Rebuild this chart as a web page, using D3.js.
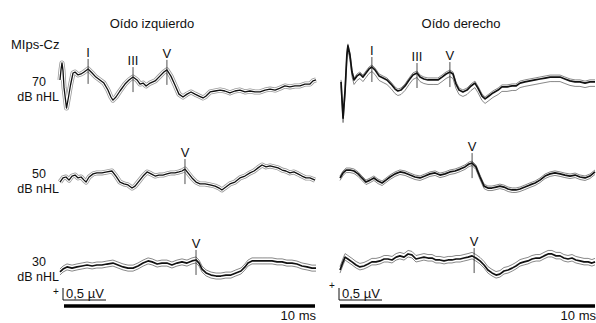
<!DOCTYPE html>
<html>
<head>
<meta charset="utf-8">
<script src="https://cdn.jsdelivr.net/npm/d3@7"></script>
<style>
  body { margin: 0; background: #fff; }
  svg { display: block; }
  text { font-family: "Liberation Sans", Arial, sans-serif; fill: #111; }
</style>
</head>
<body>
<script>
// ABR traces, [time ms, amplitude uV]
const panelTitles = ["Oído izquierdo", "Oído derecho"];
const levels = ["70", "50", "30"];
const montage = "MIps-Cz";

const left70 = [[-0.16,0.21],[-0.12,0.63],[-0.08,0.92],[-0.04,0.6],[0,-0.1],[0.1,-0.96],[0.18,-0.5],[0.26,0.0],[0.36,0.5],[0.44,0.54],[0.56,0.42],[0.68,0.46],[0.8,0.54],[0.96,0.67],[1.12,0.5],[1.27,0.33],[1.43,0.21],[1.59,0.08],[1.75,-0.21],[1.87,-0.5],[1.95,-0.63],[2.07,-0.5],[2.23,-0.25],[2.43,0.04],[2.59,0.21],[2.75,0.33],[2.91,0.21],[3.03,0.04],[3.15,0.08],[3.27,-0.04],[3.43,0.08],[3.63,0.17],[3.82,0.37],[3.98,0.54],[4.1,0.63],[4.26,0.37],[4.42,0],[4.58,-0.38],[4.74,-0.5],[4.9,-0.38],[5.06,-0.29],[5.22,-0.38],[5.38,-0.46],[5.54,-0.54],[5.66,-0.46],[5.82,-0.29],[6.02,-0.25],[6.22,-0.21],[6.41,-0.25],[6.61,-0.33],[6.81,-0.25],[7.01,-0.21],[7.21,-0.29],[7.41,-0.25],[7.61,-0.29],[7.81,-0.29],[8.01,-0.21],[8.21,-0.17],[8.41,-0.21],[8.61,-0.13],[8.8,-0.04],[9.0,-0.08],[9.2,-0.04],[9.4,-0.04],[9.6,0.04],[9.8,0.04],[9.92,0.17],[10.04,0.21]];
const right70 = [[0.04,0.13],[0.12,-1.38],[0.2,-0.21],[0.27,1.25],[0.31,1.63],[0.39,1.25],[0.47,0.54],[0.55,0.21],[0.67,0.38],[0.78,0.46],[0.9,0.33],[1.02,0.5],[1.14,0.67],[1.25,0.75],[1.37,0.63],[1.53,0.38],[1.69,0.29],[1.84,0.21],[2.0,0.04],[2.16,-0.17],[2.27,-0.25],[2.39,-0.21],[2.55,-0.04],[2.71,0.21],[2.86,0.42],[3.02,0.5],[3.14,0.33],[3.29,0.25],[3.45,0.21],[3.65,0.21],[3.84,0.21],[4.0,0.33],[4.16,0.46],[4.31,0.54],[4.43,0.46],[4.55,0.04],[4.67,-0.21],[4.82,-0.29],[4.98,-0.21],[5.14,-0.04],[5.29,0.08],[5.41,-0.13],[5.57,-0.46],[5.69,-0.58],[5.84,-0.46],[6.0,-0.33],[6.2,-0.21],[6.35,-0.08],[6.55,-0.08],[6.75,-0.04],[6.9,-0.04],[7.06,0.08],[7.25,0.13],[7.45,0.17],[7.65,0.21],[7.84,0.25],[8.04,0.29],[8.24,0.33],[8.43,0.33],[8.63,0.33],[8.82,0.25],[9.02,0.17],[9.22,0.13],[9.41,0.13],[9.61,0.08],[9.8,0.13],[10.0,0.13]];
const left50 = [[-0.16,-0.21],[-0.04,-0.04],[0.08,0],[0.2,-0.13],[0.32,0.04],[0.44,0.08],[0.56,-0.04],[0.68,0],[0.8,-0.13],[0.88,-0.21],[1.0,0],[1.16,0.13],[1.31,0.17],[1.51,0.17],[1.71,0.21],[1.91,0.25],[2.07,0.04],[2.23,-0.21],[2.39,-0.29],[2.55,-0.33],[2.71,-0.46],[2.83,-0.38],[2.99,-0.17],[3.15,0.04],[3.31,0.21],[3.47,0.13],[3.63,0.04],[3.78,0.08],[3.94,0.08],[4.1,0.13],[4.26,0.17],[4.42,0.17],[4.58,0.21],[4.7,0.25],[4.82,0.33],[4.94,0.17],[5.1,-0.04],[5.26,-0.21],[5.42,-0.29],[5.62,-0.29],[5.82,-0.33],[6.02,-0.38],[6.18,-0.46],[6.29,-0.54],[6.45,-0.42],[6.61,-0.29],[6.81,-0.21],[7.01,-0.04],[7.21,0.04],[7.41,0.17],[7.57,0.25],[7.73,0.38],[7.89,0.5],[8.05,0.42],[8.21,0.46],[8.37,0.42],[8.53,0.38],[8.69,0.29],[8.84,0.25],[9.0,0.17],[9.16,0.21],[9.32,0.13],[9.48,0.04],[9.64,-0.04],[9.8,-0.04],[10.0,-0.13]];
const right50 = [[0,-0.04],[0.12,0.17],[0.24,0.29],[0.39,0.29],[0.55,0.25],[0.71,0.13],[0.86,-0.04],[1.02,-0.21],[1.18,-0.13],[1.33,-0.04],[1.49,-0.17],[1.65,-0.25],[1.8,-0.13],[1.96,0],[2.16,0.13],[2.35,0.21],[2.55,0.17],[2.75,0.08],[2.94,0],[3.14,-0.04],[3.33,0.04],[3.53,0.13],[3.73,0.17],[3.92,0.08],[4.12,0.13],[4.31,0.21],[4.51,0.25],[4.71,0.33],[4.9,0.42],[5.06,0.54],[5.18,0.58],[5.33,0.42],[5.49,0],[5.65,-0.38],[5.8,-0.46],[5.96,-0.46],[6.12,-0.42],[6.27,-0.38],[6.43,-0.42],[6.59,-0.5],[6.75,-0.54],[6.9,-0.54],[7.06,-0.5],[7.25,-0.42],[7.45,-0.33],[7.65,-0.25],[7.84,-0.13],[8.04,0.04],[8.24,0.13],[8.43,0.17],[8.63,0.13],[8.82,0.08],[9.02,0.04],[9.22,0.08],[9.41,0],[9.61,-0.04],[9.8,0.04],[10.0,0.21]];
const left30 = [[-0.16,-0.29],[-0.04,-0.17],[0.12,-0.08],[0.32,-0.13],[0.52,-0.08],[0.72,-0.04],[0.92,0],[1.12,-0.04],[1.31,0],[1.51,0],[1.71,0.04],[1.95,0.08],[2.15,0],[2.35,-0.08],[2.55,-0.13],[2.75,-0.13],[2.95,-0.04],[3.15,0.08],[3.35,0.17],[3.51,0.13],[3.71,0.04],[3.9,0.08],[4.1,0.08],[4.3,0],[4.5,0.08],[4.7,0.13],[4.9,0.08],[5.1,0.17],[5.26,0.21],[5.38,0.08],[5.5,-0.17],[5.66,-0.33],[5.86,-0.42],[6.06,-0.46],[6.25,-0.46],[6.45,-0.42],[6.65,-0.42],[6.85,-0.33],[7.05,-0.25],[7.21,-0.08],[7.33,0.08],[7.49,0.17],[7.69,0.17],[7.89,0.17],[8.09,0.17],[8.29,0.17],[8.49,0.13],[8.69,0.13],[8.88,0.08],[9.08,0.08],[9.28,0.04],[9.48,-0.04],[9.68,-0.08],[9.88,-0.13],[10.04,-0.13]];
const right30 = [[0,-0.21],[0.12,0.13],[0.2,0.33],[0.31,0.25],[0.47,0.13],[0.63,0],[0.78,-0.08],[0.94,-0.04],[1.1,0.04],[1.25,0.13],[1.41,0.13],[1.57,0.17],[1.73,0.25],[1.88,0.25],[2.04,0.21],[2.2,0.33],[2.35,0.38],[2.51,0.33],[2.67,0.46],[2.82,0.42],[2.98,0.25],[3.14,0.29],[3.29,0.33],[3.45,0.29],[3.61,0.29],[3.76,0.21],[3.92,0.21],[4.08,0.17],[4.24,0.21],[4.39,0.21],[4.55,0.25],[4.71,0.25],[4.86,0.29],[5.02,0.33],[5.18,0.38],[5.33,0.29],[5.49,0.17],[5.65,0],[5.8,-0.21],[5.96,-0.33],[6.12,-0.42],[6.27,-0.38],[6.43,-0.25],[6.59,-0.21],[6.75,-0.13],[6.9,-0.04],[7.06,0.08],[7.22,0.13],[7.37,0.17],[7.53,0.25],[7.69,0.29],[7.84,0.29],[8.0,0.38],[8.16,0.46],[8.31,0.46],[8.47,0.38],[8.63,0.38],[8.78,0.29],[8.94,0.25],[9.1,0.29],[9.25,0.21],[9.41,0.17],[9.57,0.13],[9.73,0.13],[9.88,0.08],[10.0,0.13]];

// wave labels: [label, latency ms]
const marksLeft70 = [["I", 0.96], ["III", 2.75], ["V", 4.1]];
const marksRight70 = [["I", 1.25], ["III", 3.02], ["V", 4.31]];
const marksLeft50 = [["V", 4.82]];
const marksRight50 = [["V", 5.18]];
const marksLeft30 = [["V", 5.26]];
const marksRight30 = [["V", 5.26]];

const timeBar = 10;   // ms
const ampBar = 0.5;   // uV

const W = 596, H = 323;
const svg = d3.select("body").append("svg").attr("width", W).attr("height", H);

const xLeft = d3.scaleLinear().domain([0, 10]).range([64, 315]);
const xRight = d3.scaleLinear().domain([0, 10]).range([340, 595]);
const rowBase = [85, 177, 265];
const pxPerUv = 24;
const yRow = rowBase.map(b => d3.scaleLinear().domain([-1, 1]).range([b + pxPerUv, b - pxPerUv]));

const traces = [
    {data: left70, x: xLeft, row: 0, marks: marksLeft70, style: "halo"},
    {data: right70, x: xRight, row: 0, marks: marksRight70, style: "band", off: [-2, 4.5]},
    {data: left50, x: xLeft, row: 1, marks: marksLeft50, style: "halo"},
    {data: right50, x: xRight, row: 1, marks: marksRight50, style: "band", off: [-2, 2.5]},
    {data: left30, x: xLeft, row: 2, marks: marksLeft30, style: "band", off: [-3, 3]},
    {data: right30, x: xRight, row: 2, marks: marksRight30, style: "band", off: [-3.5, 3]}
];

traces.forEach(t => {
    const y = yRow[t.row];
    const line = d3.line().x(d => t.x(d[0])).y(d => y(d[1]));
    const g = svg.append("g").attr("fill", "none").attr("stroke-linejoin", "round");
    if (t.style === "halo") {
        g.append("path").attr("d", line(t.data)).attr("stroke", "#9a9a9a").attr("stroke-width", 5);
        g.append("path").attr("d", line(t.data)).attr("stroke", "#fff").attr("stroke-width", 3.4);
        g.append("path").attr("d", line(t.data)).attr("stroke", "#111").attr("stroke-width", 1.3);
    } else {
        t.off.forEach(o => {
            g.append("path").attr("d", line(t.data)).attr("transform", `translate(0,${o})`)
                .attr("stroke", "#6a6a6a").attr("stroke-width", 0.8);
        });
        g.append("path").attr("d", line(t.data)).attr("stroke", "#111").attr("stroke-width", 1.7);
    }

    // peak markers
    t.marks.forEach(([lab, ms]) => {
        const px = t.x(ms);
        const near = t.data.reduce((a, b) => Math.abs(b[0] - ms) < Math.abs(a[0] - ms) ? b : a);
        const py = y(near[1]);
        svg.append("line").attr("x1", px).attr("x2", px).attr("y1", py - 10).attr("y2", py + 15)
            .attr("stroke", "#222").attr("stroke-width", 0.8);
        svg.append("text").attr("x", px).attr("y", py - 12).attr("text-anchor", "middle")
            .attr("font-size", 13).text(lab);
    });
});

// titles
svg.append("text").attr("x", 152).attr("y", 28).attr("text-anchor", "middle").attr("font-size", 13).text(panelTitles[0]);
svg.append("text").attr("x", 461).attr("y", 28).attr("text-anchor", "middle").attr("font-size", 13).text(panelTitles[1]);
svg.append("text").attr("x", 11).attr("y", 49).attr("font-size", 13).text(montage);

levels.forEach((lv, i) => {
    const b = rowBase[i];
    const t = svg.append("text").attr("font-size", 12.5).attr("text-anchor", "end");
    t.append("tspan").attr("x", 46).attr("y", b + 1).text(lv);
    t.append("tspan").attr("x", 59).attr("dy", 15).text("dB nHL");
});

// scale bars
[xLeft, xRight].forEach((x, i) => {
    const x0 = x(0);
    const yb = 300;
    svg.append("text").attr("x", x0 - 8).attr("y", i ? 289 : 295).attr("text-anchor", "middle")
        .attr("font-size", 10).text("+");
    svg.append("path")
        .attr("d", `M${x0 - 1},${yb - ampBar * pxPerUv} V${yb} H${x0 + 42}`)
        .attr("fill", "none").attr("stroke", "#111").attr("stroke-width", 1);
    svg.append("text").attr("x", x0 + 2).attr("y", yb - 2).attr("font-size", 13).text("0,5 µV");
    svg.append("line").attr("x1", x(0)).attr("x2", x(timeBar)).attr("y1", 306).attr("y2", 306)
        .attr("stroke", "#000").attr("stroke-width", 3.5);
    svg.append("text").attr("x", x(timeBar) + 1).attr("y", 320).attr("text-anchor", "end")
        .attr("font-size", 13).text(timeBar + " ms");
});
</script>
</body>
</html>
